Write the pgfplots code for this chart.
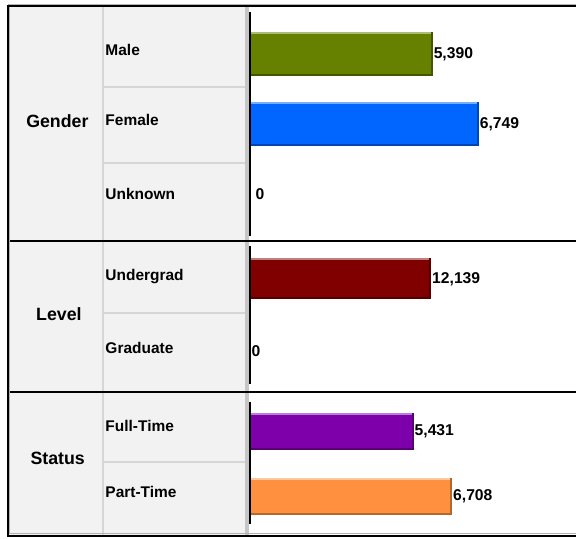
\documentclass[border=0pt]{standalone}
\usepackage{pgfplots}
\pgfplotsset{compat=1.18}
\usepackage{fontspec}
\setmainfont{Liberation Sans}

% bar colours: main face, light top edge, dark bottom/right edge
\definecolor{maleM}{HTML}{668000}\definecolor{maleL}{HTML}{AABD78}\definecolor{maleD}{HTML}{445500}
\definecolor{femM}{HTML}{0066FF}\definecolor{femL}{HTML}{78AEFF}\definecolor{femD}{HTML}{0046B0}
\definecolor{ugM}{HTML}{800000}\definecolor{ugL}{HTML}{C08080}\definecolor{ugD}{HTML}{550000}
\definecolor{ftM}{HTML}{7D00AA}\definecolor{ftL}{HTML}{BC7CDA}\definecolor{ftD}{HTML}{560075}
\definecolor{ptM}{HTML}{FF9040}\definecolor{ptL}{HTML}{FFC8A0}\definecolor{ptD}{HTML}{B06A30}
\definecolor{cellbg}{HTML}{F2F2F2}
\definecolor{cellrule}{HTML}{D6D6D6}
\definecolor{stripgray}{HTML}{C6C6C6}

\pgfplotsset{
  grp/.style={
    scale only axis, width=326.5pt, anchor=south west,
    xmin=0,
    axis x line=none, axis y line*=left,
    axis line style={-}, y axis line style={black, line width=1.2pt},
    major tick length=0pt, ytick style={draw=none},
    yticklabel style={font=\fontsize{15.5}{18}\selectfont\bfseries,
      anchor=west, inner sep=0pt, xshift=-145pt},
    axis on top,
  },
  vallabel/.style={
    point meta=x, nodes near coords,
    nodes near coords={\pgfmathprintnumber[fixed, precision=0, 1000 sep={,}, assume math mode=true]{\pgfplotspointmeta}},
    every node near coord/.append style={font=\fontsize{15.7}{18}\selectfont\bfseries,
      anchor=west, inner xsep=0.8pt, text=black},
  },
}

% #1 value, #2 row position, #3 bar width (pt), #4 face, #5 light edge, #6 dark edge
\newcommand\bevelbar[6]{%
  \addplot[xbar, bar shift=0pt, bar width=#3pt, fill=#6, draw=none, vallabel] coordinates {(#1,#2)};
  \addplot[xbar, bar shift=1pt, bar width=\the\numexpr#3-2\relax pt, fill=#5, draw=none, xshift=-2pt] coordinates {(#1,#2)};
  \addplot[xbar, bar shift=0pt, bar width=\the\numexpr#3-4\relax pt, fill=#4, draw=none, xshift=-2pt] coordinates {(#1,#2)};
}
% #1 row position, #2 gap between axis and label
\newcommand\zerobar[2]{%
  \addplot[xbar, bar shift=0pt, bar width=10pt, fill=none, draw=none, vallabel,
    every node near coord/.append style={inner xsep=#2}] coordinates {(0,#1)};
}

\begin{document}
\begin{tikzpicture}
\begin{scope}[x=1pt, y=1pt]
\path (0,0) rectangle (577,-538);
% label columns
\fill[cellbg] (8,-6) rectangle (249.5,-536);
\fill[stripgray] (245,-6) rectangle (249.5,-536);
\draw[cellrule, line width=2.2pt] (103,-6) -- (103,-536);
\foreach \yy in {86.9, 163.7, 313.7, 463.3}
  \draw[cellrule, line width=2.2pt] (104,-\yy) -- (245,-\yy);
% group names
\begin{scope}[every node/.style={font=\fontsize{17.8}{20}\selectfont\bfseries, inner sep=0pt}]
  \node at (57.5,-121) {Gender};
  \node at (59,-315) {Level};
  \node at (57.8,-459) {Status};
\end{scope}
\end{scope}

% Gender
\begin{axis}[grp, at={(250.5pt,-236.5pt)}, height=224pt, xmax=9610,
  ymin=-0.6, ymax=2.6, ytick={0,1.064,2.064}, yticklabels={Unknown,Female,Male}]
  \bevelbar{5390}{2}{44}{maleM}{maleL}{maleD}
  \bevelbar{6749}{1}{44}{femM}{femL}{femD}
  \zerobar{0}{5.5pt}
\end{axis}

% Level
\begin{axis}[grp, at={(250.5pt,-384.6pt)}, height=137.75pt, xmax=21825,
  ymin=-0.45, ymax=1.45, ytick={0.041,1.039}, yticklabels={Graduate,Undergrad}]
  \bevelbar{12139}{1}{41}{ugM}{ugL}{ugD}
  \zerobar{0}{1.5pt}
\end{axis}

% Status
\begin{axis}[grp, at={(250.5pt,-524.8pt)}, height=121.55pt, xmax=10811,
  ymin=-0.42, ymax=1.45, ytick={0.069,1.089}, yticklabels={Part-Time,Full-Time}]
  \bevelbar{5431}{1}{37}{ftM}{ftL}{ftD}
  \bevelbar{6708}{0}{37}{ptM}{ptL}{ptD}
\end{axis}

% group separators and outer frame
\begin{scope}[x=1pt, y=1pt]
\draw[black, line width=2.2pt] (8,-241.7) -- (577,-241.7);
\draw[black, line width=2.2pt] (8,-392.8) -- (577,-392.8);
\draw[gray!60, line width=1pt] (8,-4.5) -- (577,-4.5);
\draw[gray!60, line width=1pt] (9.6,-534.7) -- (577,-534.7);
\draw[gray!60, line width=1pt] (9.8,-6) -- (9.8,-535);
\draw[black, line width=2.3pt] (6.7,-6.2) -- (577,-6.2);
\draw[black, line width=2.3pt] (6.7,-536.85) -- (577,-536.85);
\draw[black, line width=2.3pt] (7.85,-5.05) -- (7.85,-538);
\end{scope}
\end{tikzpicture}
\end{document}
